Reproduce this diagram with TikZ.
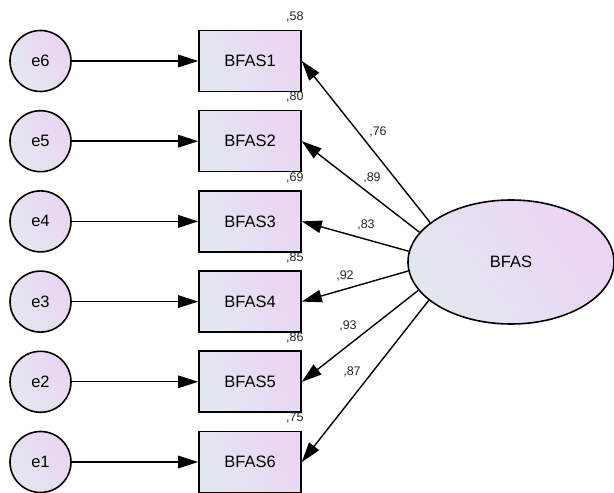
\documentclass[tikz,border=0pt]{standalone}
\usepackage{fontspec}
\setmainfont{Liberation Sans}
\usetikzlibrary{shapes.geometric,arrows.meta,calc}
\definecolor{fillA}{RGB}{226,231,239}
\definecolor{fillB}{RGB}{236,212,244}
\tikzset{
  grad/.style={left color=fillA, right color=fillB, shading angle=125},
  obsbox/.style={draw=black, line width=1.6pt, rectangle, minimum width=102pt, minimum height=61pt, inner sep=0pt, grad, font=\fontsize{16.5}{18}\selectfont},
  errc/.style={draw=black, line width=1.6pt, circle, minimum size=61pt, inner sep=0pt, grad, font=\fontsize{16.5}{18}\selectfont},
  latent/.style={draw=black, line width=1.6pt, ellipse, minimum width=206pt, minimum height=124pt, inner sep=0pt, grad, font=\fontsize{16.5}{18}\selectfont},
  conn/.style={line width=1.4pt, -{Triangle[length=20pt,width=12.5pt]}},
  lab/.style={font=\fontsize{12.5}{14}\selectfont, text=black!85, inner sep=0pt},
}
\begin{document}
\begin{tikzpicture}[x=1pt,y=1pt]
\useasboundingbox (0,0) rectangle (614,493);
\clip (0,0) rectangle (614,493);
\foreach \i/\e/\y in {1/6/432, 2/5/351.8, 3/4/271.6, 4/3/191.4, 5/2/111.2, 6/1/31} {
  \node[obsbox] (b\i) at (250,\y) {BFAS\i};
  \node[errc] (e\e) at (40.5,\y) {e\e};
  \draw[conn] (e\e) -- (b\i);
}
\node[latent] (bfas) at (511,231) {BFAS};
\draw[conn] (bfas.154.8) -- (b1.east);
\draw[conn] (bfas.162.9) -- (b2.east);
\draw[conn] (bfas.174.5) -- (b3.east);
\draw[conn] (bfas.185.5) -- (b4.east);
\draw[conn] (bfas.197) -- (b5.east);
\draw[conn] (bfas.205) -- (b6.east);
% squared multiple correlations
\foreach \i/\v in {1/58, 2/80, 3/69, 4/85, 5/86, 6/75} {
  \node[lab, anchor=base east] (r\i) at ($(b\i.north east)+(2,9)$) {,\v};
}
% loadings
\node[lab] (l1) at (378,361) {,76};
\node[lab] (l2) at (372,315) {,89};
\node[lab] (l3) at (366,268) {,83};
\node[lab] (l4) at (345,217) {,92};
\node[lab] (l5) at (348,167) {,93};
\node[lab] (l6) at (352,121) {,87};
\end{tikzpicture}
\end{document}
